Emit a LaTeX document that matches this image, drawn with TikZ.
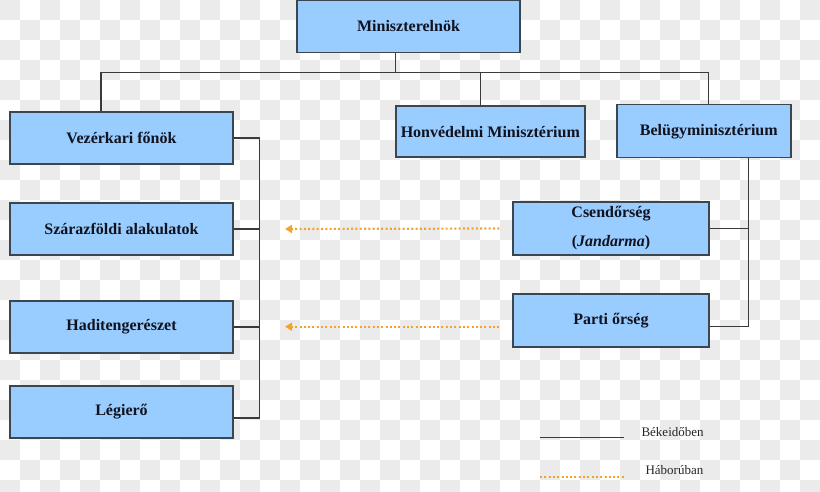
\documentclass[tikz,border=0pt]{standalone}
\usepackage{fontspec}
\setmainfont{Liberation Serif}
\usetikzlibrary{arrows.meta}
\definecolor{boxblue}{HTML}{99CCFF}
\definecolor{boxline}{HTML}{3C4650}
\definecolor{linkgray}{HTML}{3A3A3A}
\definecolor{warorange}{HTML}{F5A328}
\definecolor{checkgray}{HTML}{EBEBEB}
\definecolor{textdark}{HTML}{10131F}
\begin{document}
\begin{tikzpicture}[x=1pt, y=-1pt,
		box/.style={draw=boxline, line width=1.4pt, fill=boxblue, text=textdark,
			minimum width=223pt, minimum height=52pt, inner sep=0pt, align=center,
			font=\bfseries\fontsize{16}{19}\selectfont},
		link/.style={draw=linkgray, line width=1.3pt},
		war/.style={draw=warorange, line width=2.2pt, dash pattern=on 2pt off 2.3pt},
		legend/.style={text=black!85, font=\fontsize{13}{15}\selectfont}]
				% Background
				\useasboundingbox (0,0) rectangle (820,492);
				\begin{scope}
				\clip (0,0) rectangle (820,492);
				\fill[white] (0,0) rectangle (820,492);
				\foreach \j in {0,...,24} {
					\pgfmathtruncatemacro{\off}{mod(\j,2)*20}
					\foreach \i in {0,40,...,800}
						\fill[checkgray] (\i+\off,\j*20) rectangle ++(20,20);
				}
				\end{scope}

				% Top level
				\node[box] (pm) at (408.5,26.5) {Miniszterelnök};
				\node[box, minimum width=189pt, minimum height=51pt] (hm) at (490.3,131.6) {Honvédelmi Minisztérium};
				\node[box, minimum width=174pt, minimum height=53pt] (bm) at (703.8,131.3) {\hspace{10pt}Belügyminisztérium};

				% Army
				\node[box] (vk) at (121.5,138) {Vezérkari főnök};
				\node[box] (sz) at (121.5,229) {Szárazföldi alakulatok};
				\node[box] (ht) at (121.5,327) {Haditengerészet};
				\node[box] (lg) at (121.5,412) {Légierő};

				% Interior
				\node[box, minimum width=196pt, minimum height=53pt] (cs) at (611,228.5) {Csendőrség\\[10pt](\textit{Jandarma})};
				\node[box, minimum width=196pt, minimum height=53pt] (po) at (611,320.3) {Parti őrség};

				% Peace time links
				\coordinate (bus) at (395.7,72.5);
				\draw[link] (pm.south -| bus) -- (bus);
				\draw[link] ([xshift=-20.5pt]vk.north) |- (bus) -| ([xshift=4.5pt]bm.north);
				\draw[link] ([xshift=-9.5pt]hm.north) -- ([xshift=-9.5pt]hm.north |- bus);
				\draw[link] (vk.east) -- ++(26,0) coordinate (lc) |- ([yshift=-6pt]lg.east);
				\draw[link] (sz.east) -- (sz.east -| lc);
				\draw[link] (ht.east) -- (ht.east -| lc);
				\draw[link] ([xshift=44.5pt]bm.south) coordinate (rc) |- ([yshift=-6.4pt]po.east);
				\draw[link] (cs.east) -- (cs.east -| rc);

				% War time links
				\coordinate (t1) at (285,229);
				\coordinate (t2) at (285,326.7);
				\draw[war, -{Triangle[length=7pt,width=8pt]}] ([xshift=-13pt]cs.west) -- (t1);
				\draw[war, -{Triangle[length=7pt,width=8pt]}] ([xshift=-13pt,yshift=-6.4pt]po.west) -- (t2);

				% Legend
				\coordinate (la) at (540,437.5);
				\coordinate (lb) at (624,437.5);
				\coordinate (lc2) at (540,477);
				\coordinate (ld) at (624,477);
				\draw[link, line width=1pt] (la) -- (lb);
				\draw[war, line width=2pt] (lc2) -- (ld);
				\node[legend, anchor=west] (peace) at (638,432) {Békeidőben};
				\node[legend, anchor=west] (wartime) at (642,470) {Háborúban};
			\end{tikzpicture}
\end{document}
